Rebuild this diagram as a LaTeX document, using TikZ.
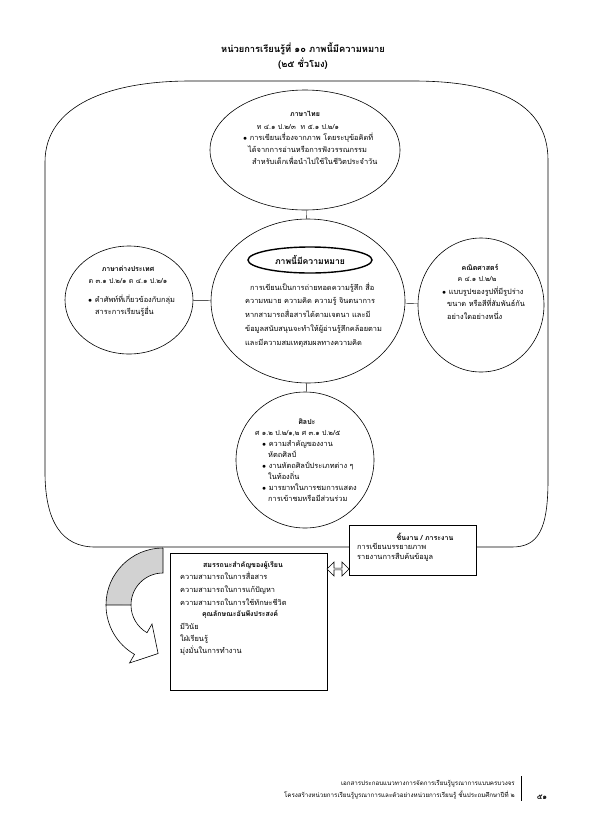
\documentclass[tikz,border=0pt]{standalone}
\usepackage{fontspec}
\setmainfont[Script=Thai]{Loma}
\usetikzlibrary{shapes.geometric,shapes.arrows}
\tikzset{
  bubble/.style={draw,ellipse,line width=0.6pt,inner sep=0pt},
  head/.style={font=\fontsize{7}{8}\selectfont\bfseries,inner sep=0pt},
  code/.style={font=\fontsize{7}{8}\selectfont,inner sep=0pt},
  body/.style={font=\fontsize{7.4}{#1}\selectfont,align=left,inner sep=0pt,anchor=north west},
  body/.default=11.5,
  panel/.style={draw,fill=white,line width=0.6pt},
  foot/.style={font=\fontsize{6.2}{7}\selectfont,inner sep=0pt,anchor=east},
}
\newcommand{\bul}{$\bullet$\ }
\begin{document}
\begin{tikzpicture}[x=1pt,y=-1pt]
  \useasboundingbox (0,0) rectangle (595,836);
  \node[font=\fontsize{9.3}{11}\selectfont\bfseries,inner sep=0pt] (title1) at (303,49) {หน่วยการเรียนรู้ที่ ๑๐ ภาพนี้มีความหมาย};
  \node[font=\fontsize{9.3}{11}\selectfont\bfseries,inner sep=0pt] (title2) at (303,64) {(๒๕ ชั่วโมง)};

  \draw[line width=0.6pt] (190,81) -- (413,81) .. controls (490,81) and (548,100) .. (548,160)
    -- (548,480) .. controls (548,530) and (538,547) .. (512,547) -- (95,547)
    .. controls (62,547) and (45,522) .. (45,472) -- (45,162) .. controls (45,105) and (110,81) .. (190,81) -- cycle;

  \draw
    (305,150) node[bubble,minimum width=190pt,minimum height=120pt] (thai){}
    (308,301) node[bubble,minimum width=194pt,minimum height=164pt] (core){}
    (129,300) node[bubble,minimum width=128pt,minimum height=108pt] (lang){}
    (481,305) node[bubble,minimum width=126pt,minimum height=134pt] (math){}
    (305,460) node[bubble,minimum width=138pt,minimum height=136pt] (art){};
  \begin{scope}[-]
    \draw (thai) to (core);
    \draw (core) to (art);
    \draw (lang) to (core);
    \draw (core) to (math);
  \end{scope}

  \node[bubble,line width=1.4pt,minimum width=124pt,minimum height=26pt,font=\fontsize{8.6}{10}\selectfont\bfseries] (topic) at (310,260) {ภาพนี้มีความหมาย};
  \node[body=13.8] (coretext) at (245,280.3) {\strut\hspace*{5pt}การเขียนเป็นการถ่ายทอดความรู้สึก สื่อ\\
    ความหมาย ความคิด ความรู้ จินตนาการ\\
    หากสามารถสื่อสารได้ตามเจตนา และมี\\
    ข้อมูลสนับสนุนจะทำให้ผู้อ่านรู้สึกคล้อยตาม\\
    และมีความสมเหตุสมผลทางความคิด};

  \node[head] (thaihead) at (305,114) {ภาษาไทย};
  \node[code] (thaicode) at (298,127) {ท ๔.๑ ป.๒/๓ \ ท ๕.๑ ป.๒/๑};
  \node[body=11.8] (thaitext) at (243,132) {\strut\bul การเขียนเรื่องจากภาพ โดยระบุข้อคิดที่\\
    \hspace*{5pt}ได้จากการอ่านหรือการฟังวรรณกรรม\\
    \hspace*{9pt}สำหรับเด็กเพื่อนำไปใช้ในชีวิตประจำวัน};

  \node[head] (langhead) at (128,269) {ภาษาต่างประเทศ};
  \node[code] (langcode) at (128,281) {ต ๓.๑ ป.๒/๑ ต ๔.๑ ป.๒/๑};
  \node[body=12] (langtext) at (88,293.6) {\strut\bul คำศัพท์ที่เกี่ยวข้องกับกลุ่ม\\
    \hspace*{7pt}สาระการเรียนรู้อื่น};

  \node[head] (mathhead) at (480,267) {คณิตศาสตร์};
  \node[code] (mathcode) at (477,279) {ค ๔.๑ ป.๒/๒};
  \node[body=12.5] (mathtext) at (442,285.3) {\strut\bul แบบรูปของรูปที่มีรูปร่าง\\
    \hspace*{5pt}ขนาด หรือสีที่สัมพันธ์กัน\\
    \hspace*{5pt}อย่างใดอย่างหนึ่ง};

  \node[head] (arthead) at (307,422) {ศิลปะ};
  \node[code,anchor=west] (artcode) at (255,433) {ศ ๑.๒ ป.๒/๑,๒ ศ ๓.๑ ป.๒/๕};
  \node[body=11] (arttext) at (262,438.3) {\strut\bul ความสำคัญของงาน\\
    \hspace*{6pt}หัตถศิลป์\\
    \bul งานหัตถศิลป์ประเภทต่าง ๆ\\
    \hspace*{6pt}ในท้องถิ่น\\
    \bul มารยาทในการชมการแสดง\\
    \hspace*{6pt}การเข้าชมหรือมีส่วนร่วม};

  \fill[gray!35] (163,548) arc[start angle=270,end angle=180,radius=57] -- (131,605)
    arc[start angle=180,end angle=270,radius=32] -- cycle;
  \draw[line width=0.6pt] (163,548) arc[start angle=270,end angle=180,radius=57]
    (131,605) arc[start angle=180,end angle=270,radius=32] -- (163,548);
  \draw[line width=0.6pt,fill=white] (106,605) arc[start angle=180,end angle=120,radius=57]
    -- (129.5,663) -- (158.1,653.5) -- (152,624) -- (147,632.7)
    arc[start angle=120,end angle=180,radius=32] -- cycle;

  \node[panel,minimum width=127pt,minimum height=50pt,anchor=north west] (task) at (349,525) {};
  \node[head] (taskhead) at (425,537) {ชิ้นงาน / ภาระงาน};
  \node[body=10.5] (tasktext) at (357,541.6) {\strut การเขียนบรรยายภาพ\\ รายงานการสืบค้นข้อมูล};

  \node[panel,minimum width=157pt,minimum height=137pt,anchor=north west] (skill) at (170,553) {};
  \node[head] (skillhead) at (243,565) {สมรรถนะสำคัญของผู้เรียน};
  \node[body=13] (skilltext) at (180,570) {\strut ความสามารถในการสื่อสาร\\
    ความสามารถในการแก้ปัญหา\\
    ความสามารถในการใช้ทักษะชีวิต};
  \node[head] (traithead) at (240,614) {คุณลักษณะอันพึงประสงค์};
  \node[body=12] (traittext) at (180,621) {\strut มีวินัย\\ ใฝ่เรียนรู้\\ มุ่งมั่นในการทำงาน};

  \node[double arrow,draw,fill=white,line width=0.6pt,minimum width=14pt,minimum height=22pt,
    double arrow head extend=2pt,inner sep=0pt] (link) at (338,569) {};

  \node[foot] (foot1) at (515,784) {เอกสารประกอบแนวทางการจัดการเรียนรู้บูรณาการแบบครบวงจร};
  \node[foot] (foot2) at (515,795) {โครงสร้างหน่วยการเรียนรู้บูรณาการและตัวอย่างหน่วยการเรียนรู้ ชั้นประถมศึกษาปีที่ ๒};
  \draw[line width=0.8pt] (521,776) -- (521,801);
  \node[head,font=\fontsize{7.5}{8}\selectfont\bfseries] (page) at (542,797) {๕๑};
\end{tikzpicture}
\end{document}
